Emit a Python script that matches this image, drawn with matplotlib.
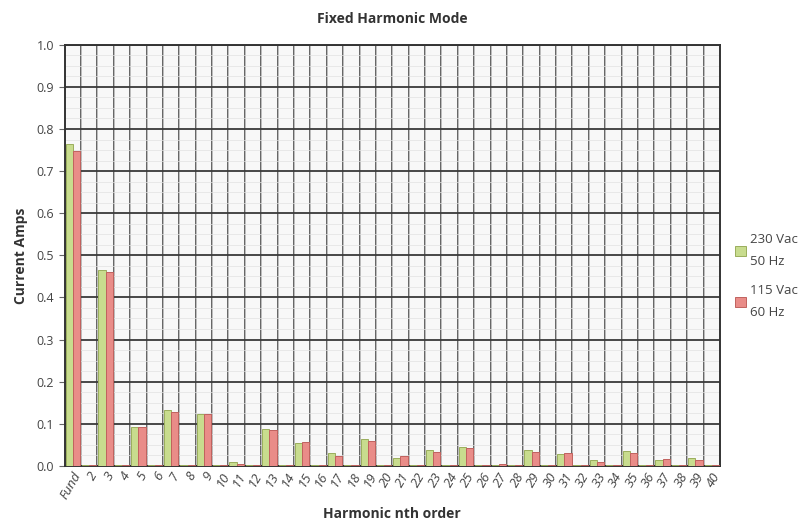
import numpy as np
import matplotlib.pyplot as plt
from matplotlib.ticker import MultipleLocator, FixedLocator

plt.rcParams['font.family'] = ['Open Sans', 'DejaVu Sans']

# categorie (ordine armonico)
harmonics = ['Fund'] + [str(n) for n in range(2, 41)]

# correnti (A)
amps_230 = [0.765, 0.003, 0.465, 0.001, 0.092, 0.003, 0.132, 0.003, 0.122, 0.003,
            0.008, 0.002, 0.088, 0.002, 0.055, 0.002, 0.030, 0.002, 0.063, 0.002,
            0.018, 0.002, 0.038, 0.003, 0.045, 0.002, 0.003, 0.003, 0.038, 0.002,
            0.028, 0.002, 0.013, 0.002, 0.035, 0.002, 0.013, 0.002, 0.018, 0.002]
amps_115 = [0.748, 0.002, 0.460, 0.001, 0.093, 0.002, 0.127, 0.002, 0.122, 0.002,
            0.005, 0.002, 0.085, 0.002, 0.057, 0.002, 0.024, 0.002, 0.060, 0.002,
            0.023, 0.002, 0.034, 0.002, 0.043, 0.002, 0.005, 0.002, 0.033, 0.002,
            0.030, 0.002, 0.008, 0.002, 0.030, 0.002, 0.016, 0.002, 0.015, 0.002]

labels = ['230 Vac\n50 Hz', '115 Vac\n60 Hz']

fig = plt.figure(figsize=(8.08, 5.27), dpi=100)
ax = fig.add_axes([0.080, 0.116, 0.811, 0.799])

x = np.arange(len(harmonics))
w = 0.44
ax.bar(x - w/2, amps_230, w, color='#c8dc8e', edgecolor='#9aae5c', linewidth=0.7,
       label=labels[0], zorder=3)
ax.bar(x + w/2, amps_115, w, color='#e98c88', edgecolor='#c0625e', linewidth=0.7,
       label=labels[1], zorder=3)

ax.set_xlim(-0.5, len(harmonics) - 0.5)
ax.set_ylim(0, 1.0)

# griglia
ax.set_facecolor('#f8f8f8')
ax.yaxis.set_major_locator(MultipleLocator(0.1))
ax.yaxis.set_minor_locator(MultipleLocator(0.025))
ax.xaxis.set_major_locator(FixedLocator(x))
ax.xaxis.set_minor_locator(FixedLocator(np.arange(-0.5, len(harmonics), 0.5)))
ax.grid(axis='y', which='major', color='#3a3a3a', linewidth=1.3, zorder=1)
ax.grid(axis='both', which='minor', color='#e2e2e2', linewidth=0.5, zorder=0)
for b in np.arange(0.5, len(harmonics) - 0.5, 1):
    ax.axvline(b, color='#4a4a4a', linewidth=1.2, zorder=1)

for s in ax.spines.values():
    s.set_color('#333333')
    s.set_linewidth(1.4)

ax.set_yticks(np.arange(0, 1.01, 0.1))
ax.set_yticklabels([f'{v:.1f}' for v in np.arange(0, 1.01, 0.1)], fontsize=9, color='#444444')
ax.set_xticks(x)
ax.set_xticklabels(harmonics, rotation=60, ha='right', rotation_mode='anchor',
                   fontsize=9.5, color='#444444', style='italic')
ax.tick_params(axis='x', which='both', length=0, pad=3)
ax.tick_params(axis='y', which='major', length=4, color='#666666')
ax.tick_params(axis='y', which='minor', length=0)

ax.set_title('Fixed Harmonic Mode', fontsize=10, fontweight='bold', color='#333333', pad=16)
ax.set_xlabel('Harmonic nth order', fontsize=10, fontweight='bold', color='#333333', labelpad=4)
ax.set_ylabel('Current Amps', fontsize=10, fontweight='bold', color='#333333', labelpad=6)

leg = ax.legend(loc='center left', bbox_to_anchor=(1.005, 0.45), frameon=False,
                fontsize=9.5, handlelength=0.8, handleheight=0.8, handletextpad=0.3,
                labelspacing=1.2, labelcolor='#444444')
for t in leg.get_texts():
    t.set_linespacing(1.9)

plt.savefig('out.png', dpi=100)
